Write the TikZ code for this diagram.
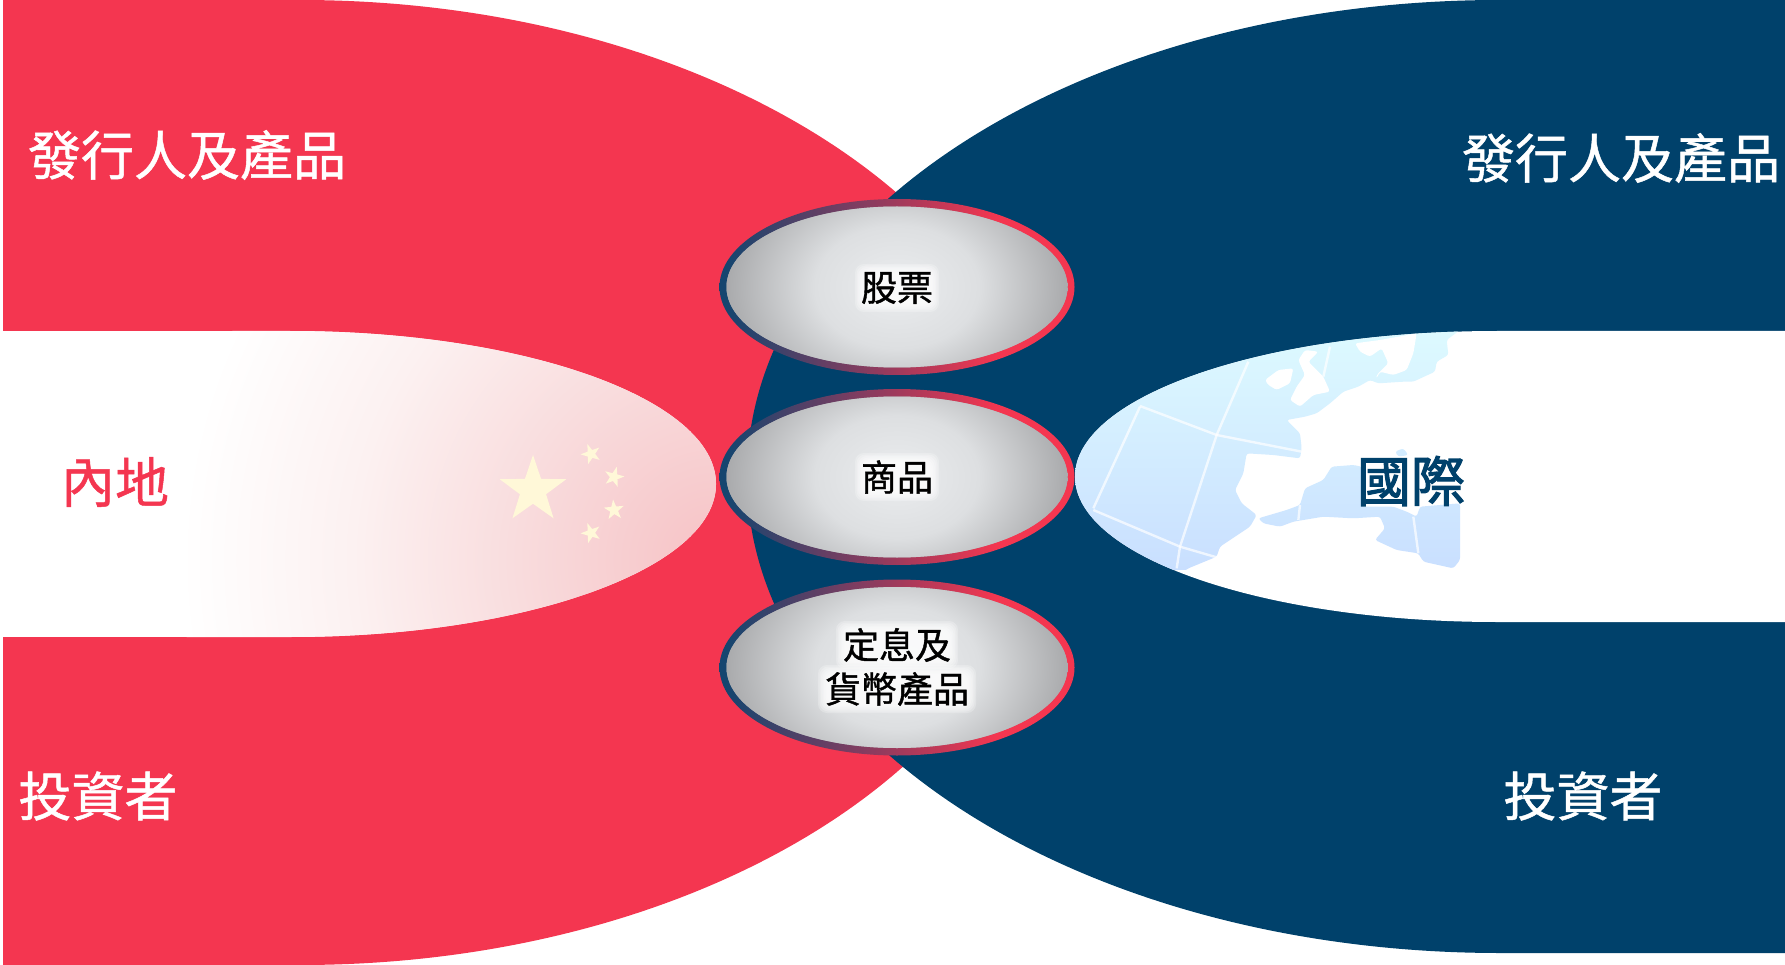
\documentclass[tikz,border=0pt]{standalone}
\usepackage{fontspec}
\setmainfont{Noto Sans CJK TC}
\newfontfamily\cjk{Noto Sans CJK TC}[FakeBold=0.9]
\newfontfamily\cjkb{Noto Sans CJK TC}[FakeBold=2.2]
\newfontfamily\cjkm{Noto Sans CJK TC}[FakeBold=1.1]
\usetikzlibrary{shapes.geometric}
\definecolor{redm}{HTML}{F43650}
\definecolor{bluem}{HTML}{00416B}
\definecolor{ringl}{HTML}{15456F}
\definecolor{ringm}{HTML}{A03A5C}
\definecolor{pinkm}{HTML}{F6C2C5}
\definecolor{pinka}{HTML}{F9DEDF}
\definecolor{pinkb}{HTML}{FCF1F1}
\definecolor{starm}{HTML}{FFF8D8}
\definecolor{seat}{HTML}{DDFAFF}
\definecolor{seab}{HTML}{C9DFFF}
\definecolor{ballc}{HTML}{EBEDEF}
\definecolor{ballm}{HTML}{DDDFE1}
\definecolor{ballo}{HTML}{A9AAAC}
\pgfdeclarehorizontalshading{ringshade}{100bp}{color(0bp)=(ringl);color(26bp)=(ringl);color(50bp)=(ringm);color(64bp)=(redm);color(100bp)=(redm)}
\pgfdeclareradialshading{ballshade}{\pgfpoint{0bp}{0bp}}{color(0bp)=(ballc);color(12bp)=(ballm);color(25bp)=(ballo);color(50bp)=(ballo)}
\pgfdeclareradialshading{flagshade}{\pgfpoint{0bp}{0bp}}{color(0bp)=(pinkm);color(10bp)=(pinka);color(17bp)=(pinkb);color(25bp)=(white);color(50bp)=(white)}
\tikzset{
  biglabel/.style={font=\cjk\fontsize{53}{53}\selectfont,text=white,inner sep=0pt},
  balllabel/.style={font=\cjkm\fontsize{36}{44}\selectfont,text=black,inner sep=0pt,align=center},
  flagstar/.style={star,star points=5,star point ratio=2.55,fill=starm,draw=none,inner sep=0pt},
  gridline/.style={draw=white,line width=2.4pt,opacity=.7},
  mapsmooth/.style={rounded corners=2.5pt},
}
\newcommand{\ball}[1]{%
  \shade[shading=ringshade] (897,#1) ellipse [x radius=177.5pt,y radius=88pt];
  \fill[ballo] (897,#1) ellipse [x radius=170.5pt,y radius=80.5pt];
  \begin{scope}
    \clip (897,#1) ellipse [x radius=170.5pt,y radius=80.5pt];
    \shade[shading=ballshade] (897,#1) ellipse [x radius=171pt,y radius=128pt];
  \end{scope}}
\newcommand{\halo}[4]{%
  \foreach \g in {0,1.5,3,4.5,6,7.5,9}
    \fill[white,opacity=.24,rounded corners=9pt] (#1-#3/2-\g,#2-#4/2-\g) rectangle (#1+#3/2+\g,#2+#4/2+\g);}
\begin{document}
\begin{tikzpicture}[x=1pt,y=-1pt]
\useasboundingbox (0,0) rectangle (1785,965);
% red half
\fill[redm] (3,0) -- (300,0) arc [start angle=90,end angle=-90,x radius=746pt,y radius=482.5pt] -- (3,965) -- cycle;
% red inner
\fill[white] (3,331) rectangle (290,637);
\begin{scope}
  \clip (290,331) arc [start angle=90,end angle=-90,x radius=426pt,y radius=153pt] -- (150,637) -- (150,331) -- cycle;
  \fill[white] (150,331) rectangle (720,637);
  \shade[shading=flagshade] (716,560) circle [radius=535pt];
\end{scope}
\node[flagstar,minimum size=70pt] (bigstar) at (533,490) {};
\node[flagstar,minimum size=21pt,rotate=20] (star1) at (591,454) {};
\node[flagstar,minimum size=21pt,rotate=-15] (star2) at (614,477) {};
\node[flagstar,minimum size=21pt,rotate=5] (star3) at (614,510) {};
\node[flagstar,minimum size=21pt,rotate=20] (star4) at (591,533) {};
% blue half
\fill[bluem] (1785,0) -- (1500,0) arc [start angle=90,end angle=270,x radius=753pt,y radius=476.5pt] -- (1785,953) -- cycle;
% blue inner
\fill[white] (1785,331) -- (1497,331) arc [start angle=90,end angle=270,x radius=422pt,y radius=145.5pt] -- (1785,622) -- cycle;
% map
\begin{scope}
  \clip (1497,331) arc [start angle=90,end angle=270,x radius=422pt,y radius=145.5pt] -- (1800,622) -- (1800,331) -- cycle;
  \begin{scope}[shift={(1060,320)},x=0.33333pt,y=-0.33333pt]
    \begin{scope}
    \clip[mapsmooth] (-100,-20) -- (1210,-20) -- (1200,30) -- (1160,60) -- (1165,105) -- (1130,125) -- (1125,155) -- (1060,185) -- (1030,185) -- (955,190) -- (930,180) -- (895,200) -- (850,215) -- (810,250) -- (770,280) -- (735,290) -- (680,300) -- (720,340) -- (725,385) -- (720,415) -- (640,405) -- (560,400) -- (550,460) -- (525,510) -- (545,550) -- (590,585) -- (570,620) -- (480,680) -- (470,710) -- (385,745) -- (300,800) -- (-100,800) -- cycle
      (595,595) -- (680,570) -- (720,555) -- (735,505) -- (790,480) -- (815,440) -- (880,435) -- (905,440) -- (905,560) -- (1000,560) -- (1040,575) -- (1070,590) -- (1080,560) -- (1200,550) -- (1200,720) -- (1180,745) -- (1090,725) -- (1075,700) -- (1010,690) -- (945,660) -- (975,625) -- (960,590) -- (880,595) -- (790,590) -- (700,605) -- (660,620) -- (610,610) -- cycle
      (1005,395) -- (1030,385) -- (1045,405) -- (1015,410) -- cycle;
    \shade[top color=seat,bottom color=seab] (-100,30) rectangle (1210,750);
    \end{scope}
    \fill[white,mapsmooth] (735,90) -- (775,95) -- (745,125) -- (790,170) -- (810,215) -- (760,225) -- (720,260) -- (690,240) -- (710,200) -- (735,165) -- (715,120) -- cycle;
    \fill[white,mapsmooth] (615,180) -- (655,150) -- (700,145) -- (690,190) -- (650,210) -- (625,195) -- cycle;
    \fill[white,mapsmooth] (885,70) -- (960,60) -- (1070,40) -- (1060,100) -- (1040,150) -- (1000,165) -- (960,155) -- (950,175) -- (950,165) -- (985,130) -- (965,85) -- (930,110) -- (900,95) -- cycle;
    \draw[gridline] (240,260) -- (100,565);
    \draw[gridline] (240,258) -- (470,345) -- (725,395);
    \draw[gridline] (565,125) -- (470,345) -- (360,680) -- (350,745);
    \draw[gridline] (100,570) -- (360,680) -- (470,712);
    \draw[gridline] (810,80) -- (790,170);
    \draw[gridline] (720,555) -- (715,600);
    \draw[gridline] (1060,590) -- (1075,700);
  \end{scope}
\end{scope}
% balls
\ball{287}
\ball{477}
\ball{667.5}
\halo{897}{288}{66}{30}
\halo{897}{477}{66}{30}
\halo{897}{645}{104}{30}
\halo{897}{689}{140}{30}
% labels
\node[biglabel] (issuerL) at (187,155) {發行人及產品};
\node[biglabel] (issuerR) at (1621,158) {發行人及產品};
\node[biglabel] (investL) at (98,796) {投資者};
\node[biglabel] (investR) at (1583,796) {投資者};
\node[biglabel,text=redm,font=\cjk\fontsize{54}{54}\selectfont] (mainland) at (115,482) {內地};
\node[biglabel,text=bluem,font=\cjkb\fontsize{54}{54}\selectfont] (intl) at (1411,481) {國際};
\node[balllabel] (stock) at (897,288) {股票};
\node[balllabel] (comm) at (897,477) {商品};
\node[balllabel] (fixed) at (897,667) {定息及\\貨幣產品};
\end{tikzpicture}
\end{document}
